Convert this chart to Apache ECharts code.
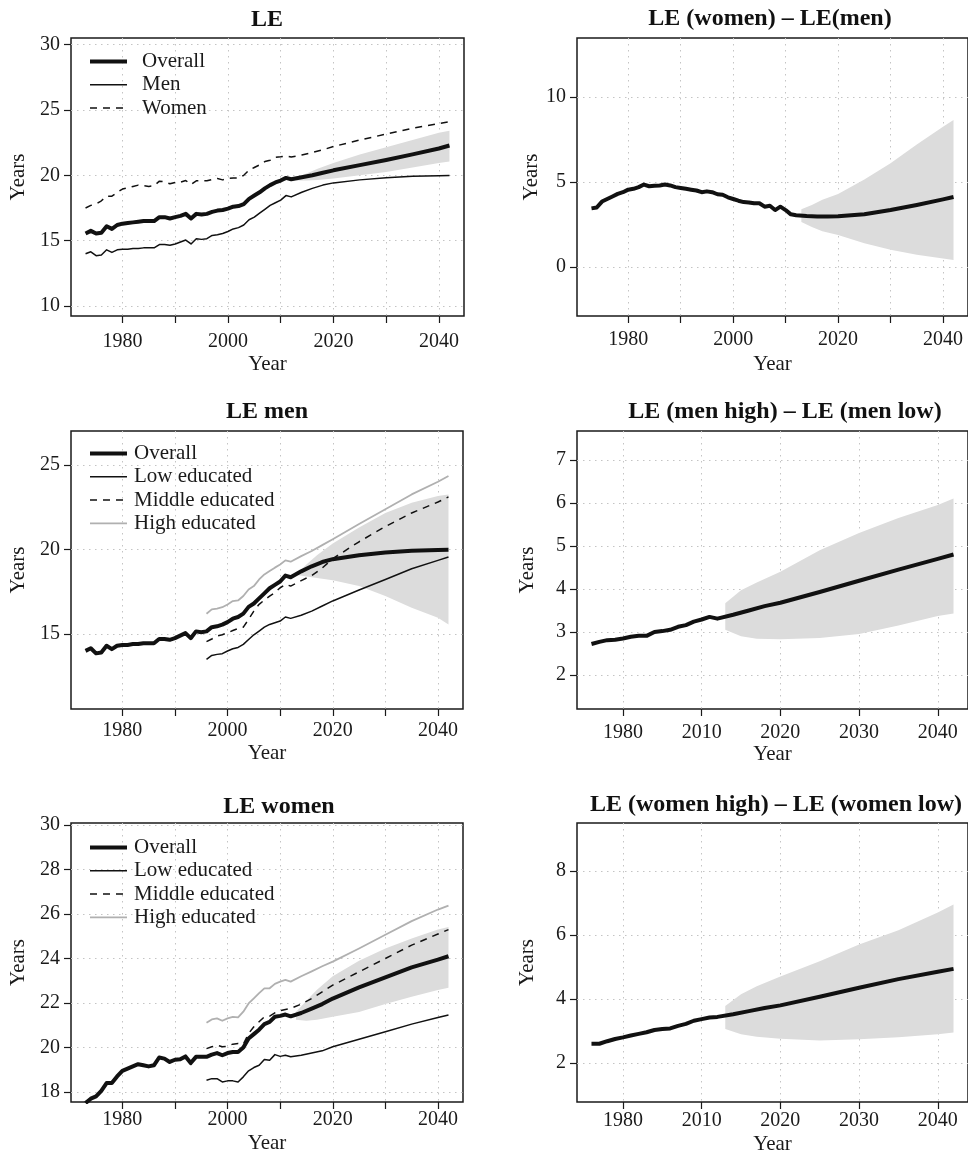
<!DOCTYPE html>
<html>
<head>
<meta charset="utf-8">
<title>LE projections</title>
<script src="https://cdn.jsdelivr.net/npm/echarts@6/dist/echarts.min.js"></script>
<style>
  html, body { margin: 0; padding: 0; background: #fff; }
  #chart { width: 968px; height: 1157px; }
</style>
</head>
<body>
<div id="chart"></div>
<script>
// ---- data ----
var histYears = [1973, 1974, 1975, 1976, 1977, 1978, 1979, 1980, 1981, 1982,
  1983, 1984, 1985, 1986, 1987, 1988, 1989, 1990, 1991, 1992,
  1993, 1994, 1995, 1996, 1997, 1998, 1999, 2000, 2001, 2002,
  2003, 2004, 2005, 2006, 2007, 2008, 2009, 2010, 2011, 2012];
var eduYears = [1996, 1997, 1998, 1999, 2000, 2001, 2002, 2003, 2004,
  2005, 2006, 2007, 2008, 2009, 2010, 2011, 2012];
var projYears = [2014, 2016, 2018, 2020, 2025, 2030, 2035, 2040, 2042];
var bandYears = [2013, 2015, 2017, 2020, 2025, 2030, 2035, 2040, 2042];

// LE overall / men / women
var bothHist = [15.55, 15.75, 15.55, 15.6, 16.1, 15.9, 16.2, 16.3, 16.35, 16.4,
  16.45, 16.5, 16.5, 16.5, 16.8, 16.8, 16.7, 16.8, 16.9, 17.05,
  16.7, 17.05, 17.0, 17.05, 17.2, 17.3, 17.35, 17.45, 17.6, 17.65,
  17.8, 18.2, 18.45, 18.7, 19.0, 19.25, 19.45, 19.6, 19.8, 19.7];
var bothProj = [19.85, 20.0, 20.2, 20.38, 20.78, 21.17, 21.6, 22.05, 22.28];
var bothLo = [19.6, 19.6, 19.65, 19.75, 20.0, 20.25, 20.6, 20.95, 21.05];
var bothHi = [19.85, 20.15, 20.5, 20.95, 21.6, 22.15, 22.7, 23.25, 23.4];

var menHist = [14.0, 14.15, 13.85, 13.9, 14.3, 14.1, 14.3, 14.35, 14.35, 14.4,
  14.4, 14.45, 14.45, 14.45, 14.7, 14.7, 14.65, 14.75, 14.9, 15.05,
  14.75, 15.15, 15.1, 15.15, 15.4, 15.45, 15.55, 15.7, 15.9, 16.0,
  16.2, 16.6, 16.8, 17.1, 17.4, 17.7, 17.9, 18.1, 18.45, 18.35];
var menProj = [18.7, 19.0, 19.25, 19.42, 19.65, 19.82, 19.92, 19.97, 19.98];
var menLo = [18.5, 18.4, 18.3, 18.17, 17.83, 17.24, 16.55, 15.96, 15.56];
var menHi = [18.5, 19.1, 19.65, 20.35, 21.3, 22.15, 22.75, 23.15, 23.25];

var womenHist = [17.5, 17.7, 17.8, 18.05, 18.4, 18.4, 18.7, 18.95, 19.05, 19.15,
  19.25, 19.2, 19.15, 19.2, 19.55, 19.5, 19.35, 19.45, 19.47, 19.6,
  19.3, 19.58, 19.58, 19.58, 19.68, 19.75, 19.65, 19.75, 19.8, 19.8,
  20.0, 20.4, 20.6, 20.8, 21.05, 21.15, 21.38, 21.42, 21.48, 21.4];
var womenProj = [21.55, 21.75, 21.95, 22.2, 22.7, 23.15, 23.6, 23.95, 24.1];
var womenLo = [21.25, 21.2, 21.25, 21.38, 21.6, 21.95, 22.28, 22.58, 22.68];
var womenHi = [21.6, 22.1, 22.6, 23.2, 23.9, 24.45, 24.9, 25.3, 25.42];

// LE(women) - LE(men)
var sexGapHist = [3.45, 3.5, 3.85, 4.0, 4.15, 4.3, 4.4, 4.55, 4.6, 4.7,
  4.85, 4.75, 4.78, 4.8, 4.85, 4.8, 4.7, 4.65, 4.6, 4.55,
  4.5, 4.4, 4.45, 4.4, 4.28, 4.25, 4.1, 4.0, 3.9, 3.82,
  3.8, 3.75, 3.75, 3.55, 3.6, 3.35, 3.55, 3.35, 3.1, 3.05];
var sexGapProj = [3.0, 2.97, 2.97, 2.98, 3.1, 3.35, 3.65, 3.98, 4.12];
var sexGapLo = [2.65, 2.35, 2.1, 1.88, 1.4, 1.02, 0.72, 0.5, 0.42];
var sexGapHi = [3.4, 3.65, 3.95, 4.3, 5.15, 6.1, 7.2, 8.25, 8.65];

// men by education
var menLowHist = [13.5, 13.73, 13.79, 13.83, 13.99, 14.12, 14.2, 14.38, 14.67,
  14.95, 15.17, 15.4, 15.56, 15.66, 15.76, 16.0, 15.92];
var menLowProj = [16.1, 16.35, 16.65, 16.95, 17.6, 18.22, 18.85, 19.35, 19.55];
var menMidHist = [14.54, 14.7, 14.87, 14.95, 15.07, 15.2, 15.32, 15.4, 15.86,
  16.35, 16.75, 17.0, 17.24, 17.44, 17.73, 17.93, 17.83];
var menMidProj = [18.15, 18.45, 18.9, 19.45, 20.45, 21.35, 22.15, 22.8, 23.1];
var menHighHist = [16.19, 16.45, 16.5, 16.58, 16.74, 16.94, 16.98, 17.24, 17.63,
  17.83, 18.22, 18.52, 18.72, 18.92, 19.11, 19.35, 19.27];
var menHighProj = [19.6, 19.9, 20.25, 20.6, 21.5, 22.37, 23.25, 24.0, 24.34];

// LE(men high) - LE(men low)
var menEduGapHist = [2.72, 2.77, 2.81, 2.82, 2.85, 2.89, 2.91, 2.91, 3.0,
  3.02, 3.05, 3.12, 3.16, 3.24, 3.29, 3.35, 3.31];
var menEduGapProj = [3.4, 3.5, 3.6, 3.68, 3.93, 4.19, 4.45, 4.7, 4.8];
var menEduGapLo = [3.05, 2.9, 2.84, 2.83, 2.86, 2.95, 3.15, 3.37, 3.43];
var menEduGapHi = [3.67, 3.97, 4.15, 4.4, 4.9, 5.3, 5.65, 5.95, 6.1];

// women by education
var womenLowHist = [18.53, 18.6, 18.6, 18.45, 18.5, 18.5, 18.45, 18.68, 18.95,
  19.1, 19.2, 19.46, 19.43, 19.68, 19.6, 19.65, 19.58];
var womenLowProj = [19.65, 19.75, 19.85, 20.03, 20.37, 20.71, 21.05, 21.35, 21.46];
var womenMidHist = [19.95, 20.03, 20.1, 20.03, 20.06, 20.15, 20.18, 20.15, 20.63,
  20.93, 21.16, 21.38, 21.41, 21.56, 21.65, 21.71, 21.76];
var womenMidProj = [21.95, 22.2, 22.5, 22.8, 23.4, 24.0, 24.6, 25.1, 25.3];
var womenHighHist = [21.11, 21.26, 21.31, 21.2, 21.31, 21.38, 21.35, 21.61, 21.98,
  22.21, 22.44, 22.66, 22.66, 22.86, 22.96, 23.04, 22.96];
var womenHighProj = [23.2, 23.42, 23.65, 23.86, 24.45, 25.07, 25.68, 26.2, 26.38];

// LE(women high) - LE(women low)
var womenEduGapHist = [2.6, 2.6, 2.68, 2.75, 2.8, 2.86, 2.91, 2.96, 3.03,
  3.06, 3.08, 3.16, 3.22, 3.32, 3.37, 3.42, 3.44];
var womenEduGapProj = [3.52, 3.62, 3.72, 3.8, 4.07, 4.35, 4.62, 4.85, 4.94];
var womenEduGapLo = [3.06, 2.9, 2.82, 2.76, 2.7, 2.74, 2.8, 2.9, 2.95];
var womenEduGapHi = [3.78, 4.15, 4.4, 4.7, 5.18, 5.7, 6.15, 6.7, 6.95];

// ticks
var decadeTicks = [1980, 1990, 2000, 2010, 2020, 2030, 2040];
var decadeLabels = [1980, 2000, 2020, 2040];
var eduTicks = [2000, 2010, 2020, 2030, 2040];
var eduTickLabels = ['1980', '2010', '2020', '2030', '2040'];

var titles = ['LE', 'LE (women) \u2013 LE(men)', 'LE men', 'LE (men high) \u2013 LE (men low)',
  'LE women', 'LE (women high) \u2013 LE (women low)'];

// ---- chart ----
var FONT = 'Liberation Serif';
var INK = '#1a1a1a';
var BLACK = '#111';
var GREY = '#b0b0b0';
var DASH = [7, 6];
var myChart = echarts.init(document.getElementById('chart'));

// line looks, shared by series and legend keys
var STYLE = {
  thick: { color: BLACK, width: 4, type: 'solid' },
  thin: { color: BLACK, width: 1.5, type: 'solid' },
  dashed: { color: BLACK, width: 1.5, type: DASH },
  grey: { color: GREY, width: 1.8, type: 'solid' }
};

function pts(xs, ys) {
  return xs.map(function (x, i) { return [x, ys[i]]; });
}

function line(name, gi, xs, ys, look) {
  var s = STYLE[look];
  return {
    name: name, type: 'line', xAxisIndex: gi, yAxisIndex: gi,
    data: pts(xs, ys), symbol: 'none', showSymbol: false, silent: true,
    lineStyle: { color: s.color, width: s.width, type: s.type, join: 'round' },
    itemStyle: { color: s.color }, z: 3
  };
}

// grey uncertainty band drawn as one polygon (lower edge, then upper edge back)
function band(gi, xs, lo, hi) {
  return {
    type: 'custom', xAxisIndex: gi, yAxisIndex: gi, silent: true, z: 1, clip: true,
    data: xs.map(function (x, i) { return [x, lo[i], hi[i]]; }),
    encode: { x: 0, y: [1, 2] },
    renderItem: function (params, api) {
      if (params.dataIndexInside !== 0) return null;
      var n = params.dataInsideLength;
      var lower = [], upper = [];
      for (var j = 0; j < n; j++) {
        lower.push(api.coord([api.value(0, j), api.value(1, j)]));
        upper.push(api.coord([api.value(0, j), api.value(2, j)]));
      }
      return {
        type: 'polygon',
        shape: { points: lower.concat(upper.reverse()) },
        style: { fill: '#dcdcdc', stroke: null }
      };
    }
  };
}

var dotted = { color: '#c4c4c4', type: [1.5, 4.5], width: 1 };

function xAxis(gi, min, max, ticks, labels, fmt, margin, gap) {
  return {
    gridIndex: gi, type: 'value', min: min, max: max,
    name: 'Year', nameLocation: 'middle', nameGap: gap,
    nameTextStyle: { fontFamily: FONT, fontSize: 21, color: INK },
    axisLine: { show: false, onZero: false },
    axisTick: { show: true, length: 7, customValues: ticks, lineStyle: { color: INK, width: 1.2 } },
    axisLabel: { customValues: labels, formatter: fmt, margin: margin,
      fontFamily: FONT, fontSize: 20, color: INK },
    splitLine: { show: true, lineStyle: dotted }
  };
}

function yAxis(gi, min, max, ticks, gap) {
  return {
    gridIndex: gi, type: 'value', min: min, max: max,
    name: 'Years', nameLocation: 'middle', nameGap: gap, nameRotate: 90,
    nameTextStyle: { fontFamily: FONT, fontSize: 21, color: INK },
    axisLine: { show: false, onZero: false },
    axisTick: { show: true, length: 7, customValues: ticks, lineStyle: { color: INK, width: 1.2 } },
    axisLabel: { customValues: ticks, margin: 11, fontFamily: FONT, fontSize: 20, color: INK },
    splitLine: { show: true, lineStyle: dotted }
  };
}

function plain(v) { return String(v); }
function eduFmt(v) {
  var i = eduTicks.indexOf(v);
  return i >= 0 ? eduTickLabels[i] : '';
}

function grid(left, top, width, height) {
  return { left: left, top: top, width: width, height: height, show: true,
    borderColor: INK, borderWidth: 1.5, backgroundColor: 'transparent' };
}

function title(text, cx, top) {
  return { text: text, left: cx, top: top, textAlign: 'center', padding: 0,
    textStyle: { fontFamily: FONT, fontWeight: 'bold', fontSize: 24, color: '#111' } };
}

// items: [name, look] pairs
function legend(items, left, top, pad) {
  return {
    data: items.map(function (it) {
      var s = STYLE[it[1]];
      return { name: it[0], lineStyle: { color: s.color, width: s.width, type: s.type } };
    }),
    orient: 'vertical', left: left, top: top, selectedMode: false,
    itemWidth: 37, itemHeight: 14, itemGap: 2.3,
    itemStyle: { opacity: 0, color: 'transparent', borderWidth: 0 },
    textStyle: { fontFamily: FONT, fontSize: 21, lineHeight: 21, color: INK, padding: [0, 0, 0, pad] }
  };
}

var series = [].concat(
  // panel 0: LE
  band(0, bandYears, bothLo, bothHi),
  line('Overall', 0, histYears.concat(projYears), bothHist.concat(bothProj), 'thick'),
  line('Men', 0, histYears.concat(projYears), menHist.concat(menProj), 'thin'),
  line('Women', 0, histYears.concat(projYears), womenHist.concat(womenProj), 'dashed'),
  // panel 1: women - men
  band(1, bandYears, sexGapLo, sexGapHi),
  line('gap sex', 1, histYears.concat(projYears), sexGapHist.concat(sexGapProj), 'thick'),
  // panel 2: LE men
  band(2, bandYears, menLo, menHi),
  line('Overall', 2, histYears.concat(projYears), menHist.concat(menProj), 'thick'),
  line('Low educated', 2, eduYears.concat(projYears), menLowHist.concat(menLowProj), 'thin'),
  line('Middle educated', 2, eduYears.concat(projYears), menMidHist.concat(menMidProj), 'dashed'),
  line('High educated', 2, eduYears.concat(projYears), menHighHist.concat(menHighProj), 'grey'),
  // panel 3: men high - low
  band(3, bandYears, menEduGapLo, menEduGapHi),
  line('gap men', 3, eduYears.concat(projYears), menEduGapHist.concat(menEduGapProj), 'thick'),
  // panel 4: LE women
  band(4, bandYears, womenLo, womenHi),
  line('Overall', 4, histYears.concat(projYears), womenHist.concat(womenProj), 'thick'),
  line('Low educated', 4, eduYears.concat(projYears), womenLowHist.concat(womenLowProj), 'thin'),
  line('Middle educated', 4, eduYears.concat(projYears), womenMidHist.concat(womenMidProj), 'dashed'),
  line('High educated', 4, eduYears.concat(projYears), womenHighHist.concat(womenHighProj), 'grey'),
  // panel 5: women high - low
  band(5, bandYears, womenEduGapLo, womenEduGapHi),
  line('gap women', 5, eduYears.concat(projYears), womenEduGapHist.concat(womenEduGapProj), 'thick')
);

var eduLegend = [['Overall', 'thick'], ['Low educated', 'thin'],
  ['Middle educated', 'dashed'], ['High educated', 'grey']];

var option = {
  animation: false,
  backgroundColor: '#fff',
  title: [
    title(titles[0], 267, 8),
    title(titles[1], 770, 7),
    title(titles[2], 267, 400),
    title(titles[3], 785, 400),
    title(titles[4], 279, 795),
    title(titles[5], 776, 793)
  ],
  legend: [
    legend([['Overall', 'thick'], ['Men', 'thin'], ['Women', 'dashed']], 83, 46, 10),
    legend(eduLegend, 83, 438, 2),
    legend(eduLegend, 83, 832, 2)
  ],
  grid: [
    grid(71, 38, 393, 278),
    grid(577, 38, 392, 278),
    grid(71, 431, 392, 278),
    grid(577, 431, 402, 278),
    grid(71, 823, 392, 279),
    grid(577, 823, 392, 279)
  ],
  xAxis: [
    xAxis(0, 1970.24, 2044.76, decadeTicks, decadeLabels, plain, 16, 38),
    xAxis(1, 1970.24, 2044.76, decadeTicks, decadeLabels, plain, 14, 38),
    xAxis(2, 1970.24, 2044.76, decadeTicks, decadeLabels, plain, 12, 34),
    xAxis(3, 1994.16, 2043.84, eduTicks, eduTicks, eduFmt, 14, 34),
    xAxis(4, 1970.24, 2044.76, decadeTicks, decadeLabels, plain, 8, 31),
    xAxis(5, 1994.16, 2043.84, eduTicks, eduTicks, eduFmt, 9, 32)
  ],
  yAxis: [
    yAxis(0, 9.24, 30.5, [10, 15, 20, 25, 30], 42),
    yAxis(1, -2.88, 13.47, [0, 5, 10], 35),
    yAxis(2, 10.56, 27.0, [15, 20, 25], 42),
    yAxis(3, 1.21, 7.67, [2, 3, 4, 5, 6, 7], 39),
    yAxis(4, 17.55, 30.09, [18, 20, 22, 24, 26, 28, 30], 42),
    yAxis(5, 0.78, 9.5, [2, 4, 6, 8], 39)
  ],
  series: series
};

myChart.setOption(option);
</script>
</body>
</html>
